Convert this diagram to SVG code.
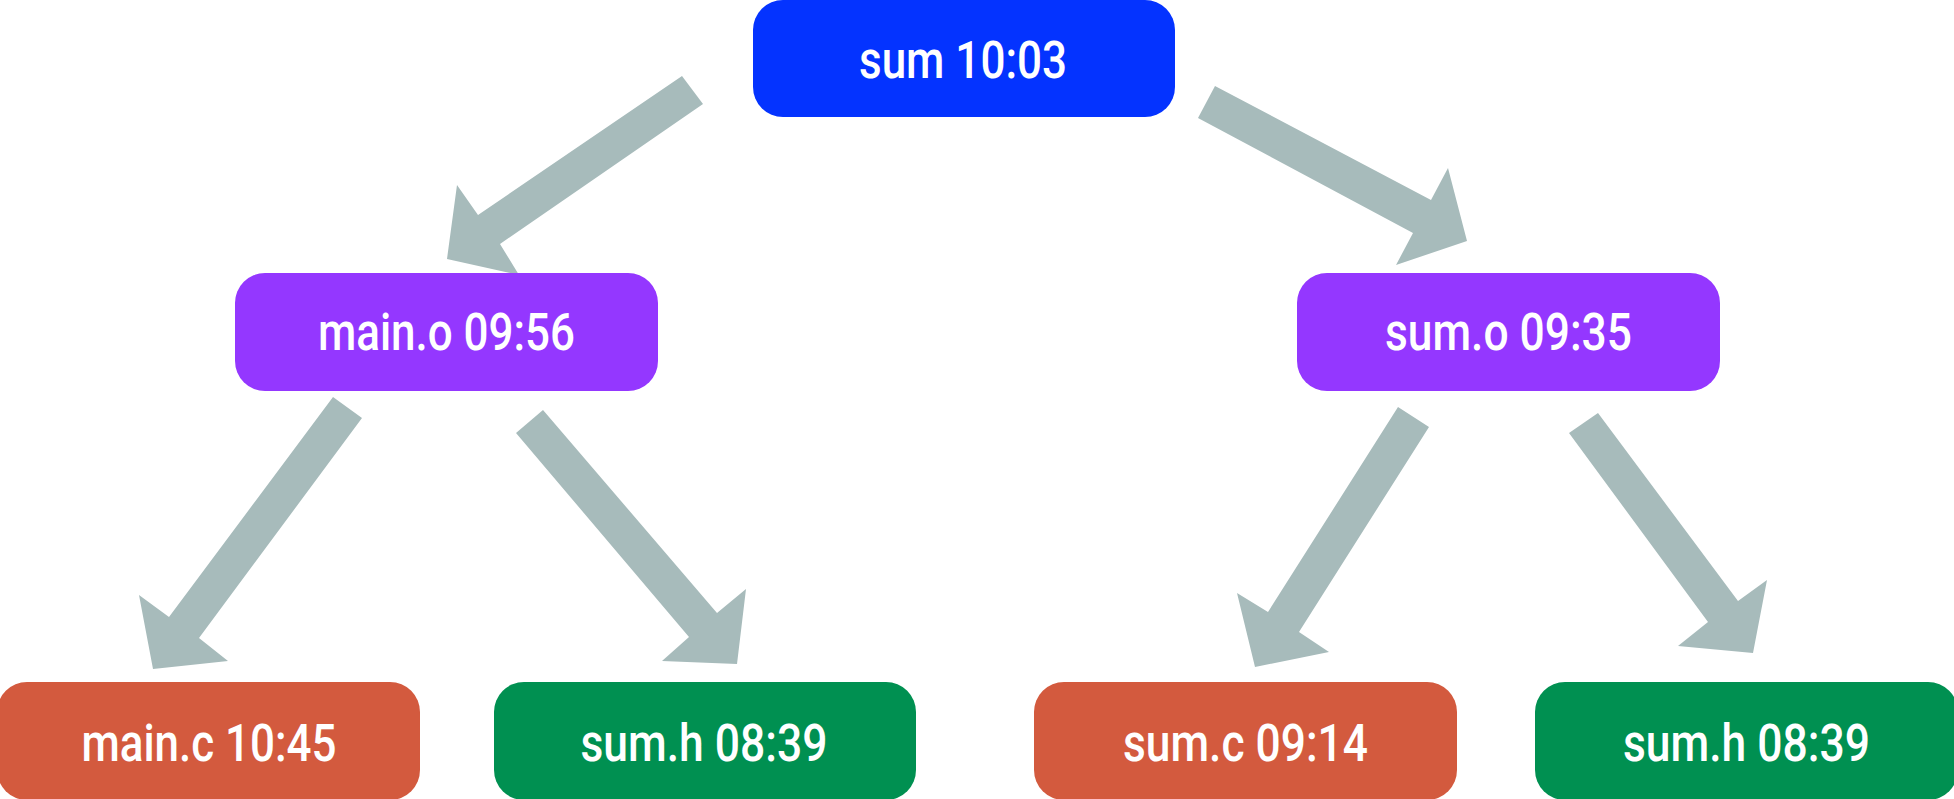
<svg xmlns="http://www.w3.org/2000/svg" width="1954" height="799" viewBox="0 0 1954 799">
  <style>
    .box { stroke: none; }
    .target { fill: #0433ff; }
    .object { fill: #9437ff; }
    .source { fill: #d35a3e; }
    .header { fill: #009051; }
    .label { font-family: Roboto, "Liberation Sans", sans-serif; font-weight: 500; font-size: 51px; fill: #ffffff; text-anchor: middle; }
    .arrow { fill: #a7bbbb; stroke: none; }
  </style>

  <rect width="1954" height="799" fill="#ffffff"/>

  <!-- dependency arrows -->
  <g id="connectors">
    <polygon class="arrow" points="682,76 703,104 500,244 519,275 447,259 457,185 478,215"/>
    <polygon class="arrow" points="1215,86 1431,200 1448,168 1467,241 1396,265 1413,233 1198,118"/>
    <polygon class="arrow" points="333,397 362,418 199,638 228,661 153,669 139,595 169,617"/>
    <polygon class="arrow" points="543,410 717,613 746,589 737,664 662,661 689,637 516,433"/>
    <polygon class="arrow" points="1398,407 1429,427 1299,632 1329,652 1255,667 1237,593 1268,612"/>
    <polygon class="arrow" points="1598,413 1738,601 1767,580 1753,653 1678,646 1708,622 1569,433"/>
  </g>

  <!-- final executable -->
  <g id="node-sum">
    <rect class="box target" x="753" y="0" width="422" height="117" rx="30" ry="30"/>
    <text class="label" x="963" y="78" textLength="208" lengthAdjust="spacingAndGlyphs">sum 10:03</text>
  </g>

  <!-- object files -->
  <g id="node-main-o">
    <rect class="box object" x="235" y="273" width="423" height="118" rx="30" ry="30"/>
    <text class="label" x="446.5" y="350" textLength="257" lengthAdjust="spacingAndGlyphs">main.o 09:56</text>
  </g>
  <g id="node-sum-o">
    <rect class="box object" x="1297" y="273" width="423" height="118" rx="30" ry="30"/>
    <text class="label" x="1508.5" y="350" textLength="247" lengthAdjust="spacingAndGlyphs">sum.o 09:35</text>
  </g>

  <!-- sources and headers -->
  <g id="node-main-c">
    <rect class="box source" x="-3" y="682" width="423" height="118" rx="30" ry="30"/>
    <text class="label" x="209" y="761" textLength="255" lengthAdjust="spacingAndGlyphs">main.c 10:45</text>
  </g>
  <g id="node-sum-h-left">
    <rect class="box header" x="494" y="682" width="422" height="118" rx="30" ry="30"/>
    <text class="label" x="704" y="761" textLength="247" lengthAdjust="spacingAndGlyphs">sum.h 08:39</text>
  </g>
  <g id="node-sum-c">
    <rect class="box source" x="1034" y="682" width="423" height="118" rx="30" ry="30"/>
    <text class="label" x="1245.5" y="761" textLength="245" lengthAdjust="spacingAndGlyphs">sum.c 09:14</text>
  </g>
  <g id="node-sum-h-right">
    <rect class="box header" x="1535" y="682" width="423" height="118" rx="30" ry="30"/>
    <text class="label" x="1746.5" y="761" textLength="247" lengthAdjust="spacingAndGlyphs">sum.h 08:39</text>
  </g>
</svg>
